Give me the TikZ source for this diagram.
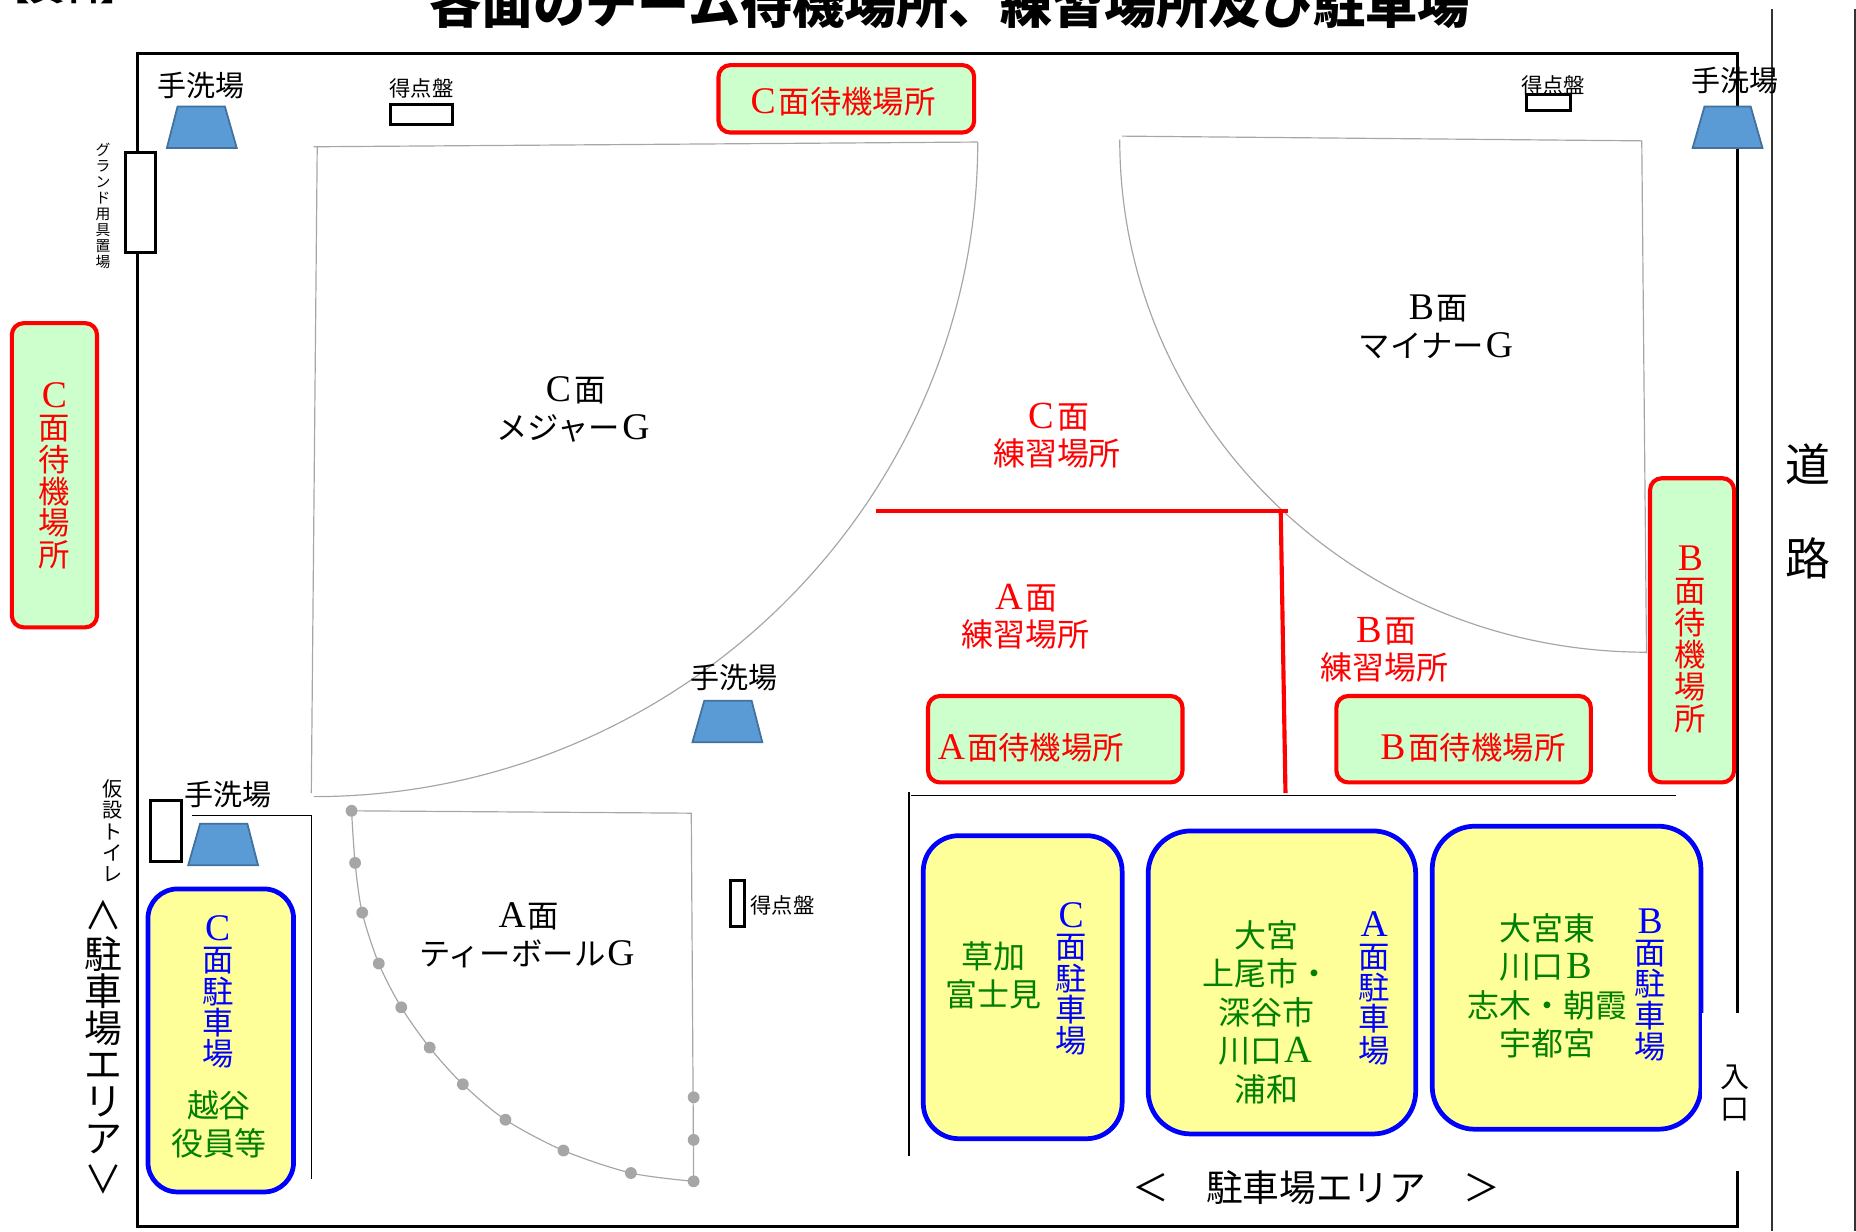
\documentclass[tikz,border=0pt]{standalone}
\usepackage{fontspec}
\setmainfont{Noto Sans CJK JP}
\newfontfamily\latfont[Scale=1.2]{Liberation Serif}
\newcommand{\zen}[1]{\makebox[1em]{\latfont #1}}
\definecolor{waitfill}{HTML}{CCFFCC}
\definecolor{parkfill}{HTML}{FFFF99}
\definecolor{sinkfill}{HTML}{5B9BD5}
\definecolor{sinkline}{HTML}{41719C}
\definecolor{fieldgray}{HTML}{A6A6A6}
\definecolor{areagreen}{HTML}{008000}
\tikzset{
  sink/.style={draw=sinkline, line width=1.5pt, fill=sinkfill},
  fieldline/.style={draw=fieldgray, line width=1pt},
  thinline/.style={draw=black, line width=1pt},
  storebox/.style={draw=black, line width=2.5pt, fill=white},
  waitbox/.style={draw=red, line width=3.5pt, fill=waitfill, rounded corners=10pt},
  parkbox/.style={draw=blue, line width=4pt, fill=parkfill},
  small/.style={font=\fontsize{18}{19}\selectfont},
  plain/.style={font=\fontsize{24.5}{27}\selectfont, align=center},
  fieldname/.style={font=\fontsize{26.5}{32}\selectfont, align=center},
  practice/.style={font=\fontsize{27}{32}\selectfont, align=center, text=red},
  waitname/.style={font=\fontsize{26.5}{27}\selectfont, align=center, text=red},
  parkname/.style={font=\fontsize{26.5}{26.5}\selectfont, align=center, text=blue},
  teams/.style={font=\fontsize{27}{32.5}\selectfont, align=center, text=areagreen},
}
\begin{document}
\begin{tikzpicture}[x=1pt, y=-1pt]
    \useasboundingbox (0, 0) rectangle (1568, 1040);

    % Title
    \node (sheet) at (55, -11) {\fontsize{30}{32}\selectfont\bfseries【資料】};
    \node (title) at (802, 3) {\fontsize{44}{48}\selectfont\bfseries 各面のチーム待機場所、練習場所及び駐車場};

    % Outer fence and road
    \draw[line width=2.5pt] (1468, 856) -- (1468, 45) -- (116, 45) -- (116, 1036) -- (1468, 1036) -- (1468, 989);
    \draw[line width=1.2pt, black!80] (1497, 8) -- (1497, 1040);
    \draw[line width=1.2pt, black!80] (1567, 8) -- (1567, 1040);
    \node[font=\fontsize{38}{80}\selectfont, align=center] (road) at (1527, 432) {道\\路};

    % C field
    \draw[fieldline] (265, 124) -- (826, 120);
    \draw[fieldline] (268, 124) -- (263, 670);
    \draw[fieldline] (826, 120) .. controls (826, 424) and (574, 673) .. (265, 673);
    \node[fieldname] (fieldC) at (485, 346) {\zen{C}面\\メジャー\zen{G}};

    % B field
    \draw[fieldline] (948, 115) -- (1387, 119) -- (1391, 552);
    \draw[fieldline] (946, 118) .. controls (946, 357) and (1144, 551) .. (1391, 551);
    \node[fieldname] (fieldB) at (1214, 276) {\zen{B}面\\マイナー\zen{G}};

    % A field with its dots
    \draw[fieldline] (297, 685) -- (584, 687) -- (586, 998);
    \draw[fieldline] plot[smooth] coordinates {(297, 685) (300, 729) (306, 771) (320, 814) (339, 851) (363, 885) (391, 916) (427, 946) (476, 972) (533, 991) (586, 998)};
    \foreach \px/\py in {297/685, 300/729, 306/771, 320/814, 339/851, 363/885, 391/916, 427/946, 476/972, 533/991, 586/998, 586/963, 586/927}
        \fill[fieldgray] (\px, \py) circle (5);
    \node[fieldname] (fieldA) at (446, 790) {\zen{A}面\\ティーボール\zen{G}};

    % Practice areas
    \draw[red, line width=3.5pt] (740, 432) -- (1088, 432);
    \draw[red, line width=3.5pt] (1082, 432) -- (1086, 670);
    \node[practice] (practiceC) at (893, 368) {\zen{C}面\\練習場所};
    \node[practice] (practiceA) at (866, 521) {\zen{A}面\\練習場所};
    \node[practice] (practiceB) at (1170, 549) {\zen{B}面\\練習場所};

    % Waiting areas
    \draw[waitbox] (607, 55) rectangle (823, 112);
    \node[waitname] (waitC) at (711, 86) {\zen{C}面待機場所};
    \draw[waitbox] (10, 273) rectangle (82, 530);
    \node[waitname] (waitCside) at (46, 402) {\zen{C}\\面\\待\\機\\場\\所};
    \draw[waitbox] (1394, 404) rectangle (1465, 661);
    \node[waitname] (waitBside) at (1428, 540) {\zen{B}\\面\\待\\機\\場\\所};
    \draw[waitbox] (784, 588) rectangle (999, 661);
    \node[waitname] (waitA) at (870, 632) {\zen{A}面待機場所};
    \draw[waitbox] (1129, 588) rectangle (1344, 661);
    \node[waitname] (waitB) at (1243, 632) {\zen{B}面待機場所};

    % Parking area lines
    \draw[thinline] (768, 669) -- (768, 977);
    \draw[thinline] (770, 672) -- (1416, 672);
    \draw[thinline] (162, 689) -- (263, 689) -- (263, 996);

    % Parking boxes
    \draw[parkbox, rounded corners=25pt] (125, 751) rectangle (248, 1007);
    \node[parkname] (parkC) at (184, 838) {\zen{C}\\面\\駐\\車\\場};
    \node[teams] (teamsC) at (185, 950) {越谷\\役員等};
    \draw[parkbox, rounded corners=30pt] (780, 706) rectangle (948, 962);
    \node[teams] (teamsD) at (839, 824) {草加\\富士見};
    \node[parkname] (parkD) at (905, 827) {\zen{C}\\面\\駐\\車\\場};
    \draw[parkbox, rounded corners=36pt] (970, 702) rectangle (1196, 958);
    \node[teams] (teamsE) at (1070, 855) {大宮\\上尾市・\\深谷市\\川口\zen{A}\\浦和};
    \node[parkname] (parkE) at (1161, 835) {\zen{A}\\面\\駐\\車\\場};
    \draw[parkbox, rounded corners=36pt] (1210, 698) rectangle (1437, 954);
    \node[teams] (teamsF) at (1307, 833) {大宮東\\川口\zen{B}\\志木・朝霞\\宇都宮};
    \node[parkname] (parkF) at (1394, 832) {\zen{B}\\面\\駐\\車\\場};

    % Entrance gap
    \fill[white] (1437.5, 856) rectangle (1480, 989);
    \node[plain] (entrance) at (1466, 923) {入\\口};

    % Wash places
    \draw[sink] (150, 90) -- (190, 90) -- (200, 125) -- (141, 125) -- cycle;
    \node[plain] (washA) at (170, 72) {手洗場};
    \draw[sink] (1440, 90) -- (1479, 90) -- (1489, 125) -- (1430, 125) -- cycle;
    \node[plain] (washB) at (1466, 68) {手洗場};
    \draw[sink] (595, 592) -- (635, 592) -- (644, 627) -- (585, 627) -- cycle;
    \node[plain] (washC) at (620, 572) {手洗場};
    \draw[sink] (169, 696) -- (209, 696) -- (218, 731) -- (159, 731) -- cycle;
    \node[plain] (washD) at (193, 671) {手洗場};

    % Score boards
    \draw[storebox] (330, 88) rectangle (382, 105);
    \node[small] (scoreA) at (356, 75) {得点盤};
    \draw[storebox] (1290, 80) rectangle (1327, 93);
    \node[small] (scoreB) at (1312, 72) {得点盤};
    \draw[storebox] (617, 744) rectangle (629, 783);
    \node[small] (scoreC) at (661, 765) {得点盤};

    % Store and toilet
    \draw[storebox] (106, 129) rectangle (131, 213);
    \node[font=\fontsize{12.5}{13.5}\selectfont, align=center] (store) at (87, 174) {グ\\ラ\\ン\\ド\\用\\具\\置\\場};
    \draw[storebox] (127, 676) rectangle (153, 728);
    \node[font=\fontsize{17}{18}\selectfont, align=center] (toilet) at (95, 702) {仮\\設\\ト\\イ\\レ};

    % Parking captions
    \node[font=\fontsize{32}{31}\selectfont, align=center] (parkLeft) at (87, 885) {∧\\[2pt]駐\\車\\場\\エ\\リ\\ア\\[4pt]∨};
    \node[font=\fontsize{31}{33}\selectfont] (parkBottom) at (1112, 1003) {＜　駐車場エリア　＞};
\end{tikzpicture}
\end{document}
